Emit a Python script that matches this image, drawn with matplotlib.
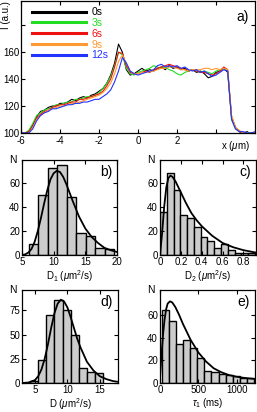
import numpy as np
import matplotlib
matplotlib.use("Agg")
import matplotlib.pyplot as plt

plt.rcParams['font.family'] = ['Liberation Sans', 'DejaVu Sans']
plt.rcParams['mathtext.fontset'] = 'custom'
plt.rcParams['mathtext.rm'] = 'Liberation Sans'
plt.rcParams['mathtext.it'] = 'Liberation Sans:italic'
plt.rcParams['mathtext.bf'] = 'Liberation Sans:bold'

# ---------------- data: panel a (intensity profiles) ----------------
x_um = np.round(np.arange(-6.0, 6.001, 0.2), 1)
I_0s = [100, 99, 101, 106, 112, 116, 117, 119, 120, 120, 122, 122, 123, 125, 124, 126, 127, 126, 128, 129,
        131, 133, 137, 143, 152, 166, 160, 147, 143, 144, 146, 148, 146, 147, 146, 148, 149, 147, 150, 148,
        149, 147, 148, 146, 147, 145, 146, 144, 141, 142, 145, 146, 148, 145, 112, 104, 101, 100, 101, 99, 100]
I_3s = [100, 100, 102, 107, 113, 115, 117, 118, 119, 121, 121, 122, 123, 123, 125, 125, 126, 127, 127, 128,
        130, 133, 137, 142, 150, 160, 158, 148, 144, 143, 145, 146, 147, 148, 150, 149, 148, 149, 147, 146,
        144, 143, 145, 146, 147, 146, 145, 146, 145, 144, 146, 147, 148, 146, 110, 103, 101, 100, 100, 100, 99]
I_6s = [100, 100, 101, 105, 111, 114, 116, 117, 119, 120, 121, 121, 122, 123, 123, 125, 125, 126, 127, 128,
        129, 131, 135, 140, 149, 160, 159, 150, 145, 144, 144, 145, 146, 145, 147, 148, 149, 150, 151, 150,
        149, 148, 147, 146, 147, 146, 145, 145, 144, 143, 144, 146, 149, 147, 111, 104, 101, 100, 99, 100, 100]
I_9s = [100, 99, 100, 104, 110, 113, 115, 117, 118, 119, 120, 120, 121, 122, 122, 123, 124, 125, 126, 127,
        128, 130, 133, 137, 144, 153, 158, 152, 146, 144, 144, 145, 145, 146, 146, 147, 148, 148, 149, 149,
        148, 147, 147, 146, 147, 147, 147, 148, 148, 147, 148, 147, 148, 147, 113, 104, 102, 100, 100, 99, 100]
I_12s = [100, 100, 100, 103, 109, 113, 115, 116, 118, 118, 119, 120, 121, 121, 122, 122, 123, 123, 124, 125,
         125, 127, 129, 132, 138, 146, 156, 152, 146, 144, 143, 144, 145, 146, 147, 150, 151, 149, 150, 149,
         150, 148, 149, 147, 146, 147, 145, 146, 144, 142, 143, 145, 147, 146, 110, 103, 101, 101, 100, 100, 101]
profile_labels = ['0s', '3s', '6s', '9s', '12s']
profile_colors = ['#000000', '#22dd22', '#ee1111', '#ff9933', '#2233ff']

# ---------------- data: histograms ----------------
b_edges = [6.1, 7.6, 9.1, 10.6, 12.1, 13.6, 15.1, 16.6, 18.1, 19.6]
b_counts = [9, 50, 72, 75, 48, 18, 16, 6, 5]
b_fit_x = [5, 5.5, 6, 6.5, 7, 7.5, 8, 8.5, 9, 9.5, 10, 10.5, 11, 11.5, 12, 13, 14, 15, 16, 17, 18, 19, 20]
b_fit_y = [0, 0.5, 2, 5, 11, 20, 31, 43, 54, 63, 68, 70, 69, 65, 59, 45, 32, 22, 15, 10, 6, 4, 2.5]

c_edges = [0.0, 0.065, 0.13, 0.195, 0.26, 0.325, 0.39, 0.455, 0.52, 0.585, 0.65, 0.715, 0.78, 0.845, 0.91]
c_counts = [36, 68, 54, 33, 31, 23, 15, 12, 6, 9, 4, 2, 2, 2]
c_fit_x = [0, 0.02, 0.04, 0.06, 0.08, 0.1, 0.12, 0.15, 0.2, 0.25, 0.3, 0.35, 0.4, 0.5, 0.6, 0.7, 0.8, 0.92]
c_fit_y = [0, 18, 40, 56, 64, 66, 65, 61, 52, 43, 35, 29, 24, 16, 10, 6.5, 4, 2]

d_edges = [4.25, 5.5, 6.75, 8.0, 9.25, 10.5, 11.75, 13.0, 14.25, 15.5]
d_counts = [2, 24, 70, 86, 75, 50, 16, 11, 10]
d_fit_x = [3, 4, 5, 5.5, 6, 6.5, 7, 7.5, 8, 8.5, 9, 9.5, 10, 10.5, 11, 11.5, 12, 13, 14, 15, 16, 17, 18]
d_fit_y = [0, 0.5, 3, 7, 14, 25, 40, 57, 72, 82, 86, 84, 78, 68, 57, 46, 37, 22, 13, 7, 4, 2, 1]

e_edges = [20, 113, 206, 299, 392, 485, 578, 671, 764, 857, 950, 1043, 1136, 1229]
e_counts = [64, 55, 34, 38, 31, 22, 11, 10, 8, 7, 6, 4, 4]
e_fit_x = [0, 20, 40, 60, 80, 100, 130, 160, 200, 250, 300, 350, 400, 500, 600, 700, 800, 900, 1000, 1100, 1240]
e_fit_y = [5, 25, 43, 56, 65, 70, 72, 71, 67, 60, 52, 45, 38, 27, 19, 13, 9.5, 7, 5.5, 4.5, 3.5]

# ---------------- figure ----------------
W, H = 257, 412
fig = plt.figure(figsize=(W / 100, H / 100), dpi=100)

def rect(l, t, r, b):
    return [l / W, 1 - b / H, (r - l) / W, (b - t) / H]

FS = 7
def style(ax):
    ax.tick_params(direction='in', top=True, right=True, length=3, width=0.8,
                   labelsize=FS)
    ax.tick_params(axis='x', pad=2.5)
    ax.tick_params(axis='y', pad=1.5)
    for s in ax.spines.values():
        s.set_linewidth(0.9)

# panel a
axa = fig.add_axes(rect(21, 1, 255, 133))
for y, lab, col in zip([I_0s, I_3s, I_6s, I_9s, I_12s], profile_labels, profile_colors):
    axa.plot(x_um, y, color=col, lw=0.8, label=lab)
axa.set_xlim(-6, 6)
axa.set_ylim(100, 198)
axa.set_xticks([-6, -4, -2, 0, 2, 4])
axa.set_xticklabels(['-6', '-4', '-2', '0', '2', ''])
axa.set_yticks([100, 120, 140, 160, 180])
axa.set_yticklabels(['100', '120', '140', '160', ''])
style(axa)
axa.tick_params(axis='y', pad=1.0)
leg = axa.legend(loc='upper left', bbox_to_anchor=(0.03, 0.985), frameon=False, fontsize=7.5,
                 handlelength=5.2, handletextpad=0.5, labelspacing=0.08, borderaxespad=0,
                 labelcolor='linecolor')
for ln in leg.get_lines():
    ln.set_linewidth(2.2)
axa.text(0.975, 0.93, 'a)', transform=axa.transAxes, ha='right', va='top', fontsize=10)
axa.text(-0.062, 1.0, 'I (a.u.)', transform=axa.transAxes, rotation=90, ha='center', va='top', fontsize=FS)
axa.text(0.915, -0.045, r'x ($\mu$m)', transform=axa.transAxes, ha='center', va='top', fontsize=FS)

def hist_panel(r, edges, counts, fx, fy, xlim, ylim, xt, xtl, yt, letter, xlabel):
    ax = fig.add_axes(rect(*r))
    lefts = edges[:-1]
    widths = np.diff(edges)
    ax.bar(lefts, counts, width=widths, align='edge', color='#cccccc', edgecolor='black', linewidth=1.0)
    ax.plot(fx, fy, color='black', lw=1.3)
    ax.set_xlim(*xlim)
    ax.set_ylim(*ylim)
    ax.set_xticks(xt)
    ax.set_xticklabels(xtl)
    ax.set_yticks(yt)
    style(ax)
    ax.tick_params(axis='x', pad=1.5)
    ax.text(0.95, 0.95, letter, transform=ax.transAxes, ha='right', va='top', fontsize=10)
    ax.text(-0.06, 1.0, 'N', transform=ax.transAxes, ha='right', va='center', fontsize=FS + 0.5)
    ax.set_xlabel(xlabel, fontsize=FS, labelpad=0.5)
    return ax

hist_panel((22, 160, 117, 255), b_edges, b_counts, b_fit_x, b_fit_y, (5, 20), (0, 79),
           [5, 10, 15, 20], ['5', '10', '15', '20'], [0, 20, 40, 60], 'b)', r'D$_1$ ($\mu$m$^2$/s)')
hist_panel((160, 160, 256, 255), c_edges, c_counts, c_fit_x, c_fit_y, (0, 0.92), (0, 79),
           [0, 0.2, 0.4, 0.6, 0.8], ['0', '0.2', '0.4', '0.6', '0.8'], [0, 20, 40, 60], 'c)',
           r'D$_2$ ($\mu$m$^2$/s)')
hist_panel((22, 290, 118, 383), d_edges, d_counts, d_fit_x, d_fit_y, (3, 17.8), (0, 96),
           [5, 10, 15], ['5', '10', '15'], [0, 25, 50, 75], 'd)', r'D ($\mu$m$^2$/s)')
hist_panel((160, 290, 255, 383), e_edges, e_counts, e_fit_x, e_fit_y, (0, 1240), (0, 82),
           [0, 500, 1000], ['0', '500', '1000'], [0, 20, 40, 60], 'e)', r'$\tau_1$ (ms)')

fig.savefig('out.png', dpi=100)
